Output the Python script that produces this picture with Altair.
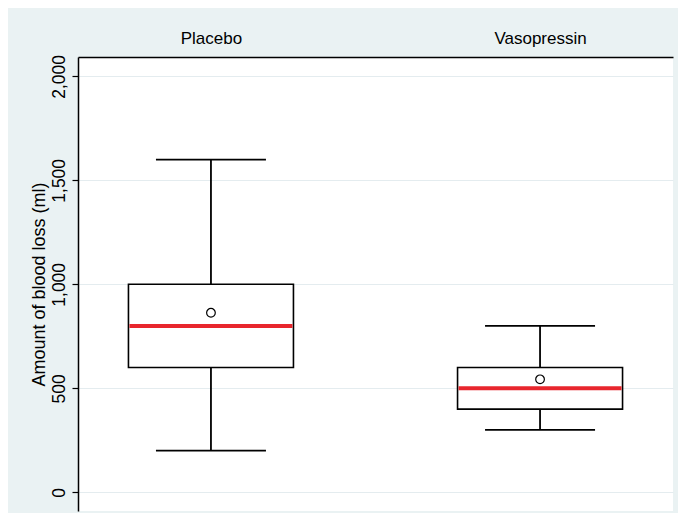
import altair as alt
import pandas as pd

groups = ["Placebo", "Vasopressin"]
lower = [200, 300]
q1 = [600, 400]
median = [800, 500]
q3 = [1000, 600]
upper = [1600, 800]
mean = [863, 543]

df = pd.DataFrame({"group": groups, "lower": lower, "q1": q1, "median": median,
                   "q3": q3, "upper": upper, "mean": mean})

BG = "#eaf2f3"
FONT = "Liberation Sans"

x = alt.X("group:N", sort=groups,
          scale=alt.Scale(type="point", padding=0.404),
          axis=alt.Axis(orient="top", title=None, ticks=False, domain=True,
                        domainColor="black", domainWidth=1.5, labelAngle=0,
                        labelFontSize=17, labelPadding=10, labelColor="black",
                        labelFont=FONT, grid=False))

yscale = alt.Scale(domain=[-90, 2093], nice=False, zero=False)
yaxis = alt.Axis(title="Amount of blood loss (ml)", values=[0, 500, 1000, 1500, 2000],
                 format=",.0f", labelAngle=270, labelFontSize=17.5, labelFont=FONT,
                 labelColor="black", labelPadding=4, tickSize=6, tickColor="black",
                 tickWidth=1.2, domainColor="black", domainWidth=1.5,
                 grid=True, gridColor="#e4ecef", gridWidth=1.2,
                 titleFontSize=18, titleFont=FONT, titleFontWeight="normal",
                 titleColor="black", titlePadding=2)

base = alt.Chart(df).encode(x=x)

whisk = base.mark_rule(color="black", strokeWidth=1.8, opacity=1).encode(
    y=alt.Y("lower:Q", scale=yscale, axis=yaxis), y2="upper:Q")
box = base.mark_bar(fill="white", stroke="black", strokeWidth=1.6, size=165, opacity=1).encode(
    y=alt.Y("q1:Q", scale=yscale), y2="q3:Q")
caps_lo = base.mark_tick(color="black", thickness=1.8, size=110, orient="horizontal", opacity=1).encode(
    y=alt.Y("lower:Q", scale=yscale))
caps_hi = base.mark_tick(color="black", thickness=1.8, size=110, orient="horizontal", opacity=1).encode(
    y=alt.Y("upper:Q", scale=yscale))
med = base.mark_tick(color="#e8262d", thickness=4, size=163, orient="horizontal", opacity=1).encode(
    y=alt.Y("median:Q", scale=yscale))
mn = base.mark_point(shape="circle", filled=False, color="black", strokeWidth=1.2, size=75, opacity=1).encode(
    y=alt.Y("mean:Q", scale=yscale))

chart = alt.layer(whisk, box, med, caps_lo, caps_hi, mn).properties(
    width=595, height=454,
    autosize=alt.AutoSizeParams(type="none"),
    padding={"left": 70, "top": 49, "right": 5, "bottom": 2},
    background=BG,
).configure_view(fill="white", stroke=None)

chart.save("out.html", embed_options={"renderer": "svg", "actions": False})
